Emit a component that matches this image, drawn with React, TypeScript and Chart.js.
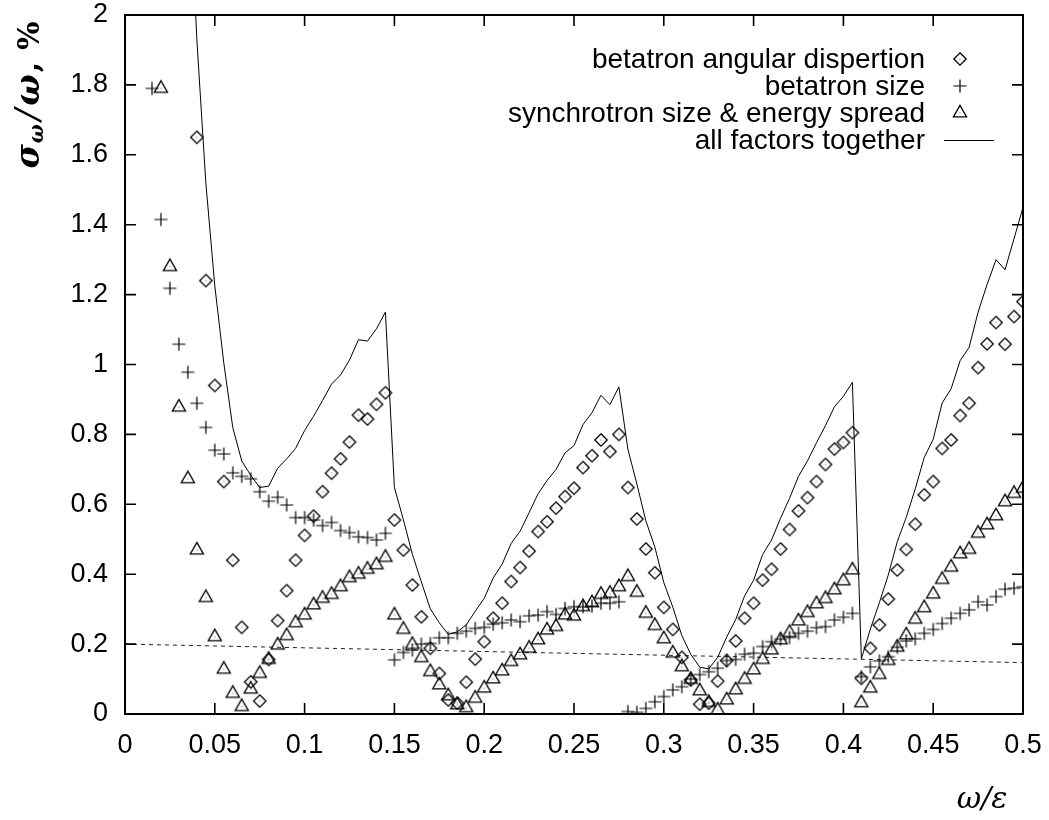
import React, { useEffect, useRef } from 'react';
import { Chart, registerables } from 'chart.js';

Chart.register(...registerables);

const xTickLabels = ['0', '0.05', '0.1', '0.15', '0.2', '0.25', '0.3', '0.35', '0.4', '0.45', '0.5'];
const yTickLabels = ['0', '0.2', '0.4', '0.6', '0.8', '1', '1.2', '1.4', '1.6', '1.8', '2'];

const seriesLabels = [
  'betatron angular dispertion',
  'betatron size',
  'synchrotron size & energy spread',
  'all factors together',
];

const angularX = [
  0.04, 0.045, 0.05, 0.055, 0.06, 0.065, 0.07, 0.075, 0.08, 0.085, 0.09, 0.095, 0.1, 0.105, 0.11, 0.115, 0.12, 0.125, 0.13, 0.135, 0.14, 0.145,
  0.15, 0.155, 0.16, 0.165, 0.17, 0.175, 0.18, 0.185, 0.19, 0.195, 0.2, 0.205, 0.21, 0.215, 0.22, 0.225, 0.23, 0.235, 0.24, 0.245, 0.25, 0.255, 0.26, 0.265, 0.27, 0.275,
  0.28, 0.285, 0.29, 0.295, 0.3, 0.305, 0.31, 0.315, 0.32, 0.325, 0.33, 0.335, 0.34, 0.345, 0.35, 0.355, 0.36, 0.365, 0.37, 0.375, 0.38, 0.385, 0.39, 0.395, 0.4, 0.405,
  0.41, 0.415, 0.42, 0.425, 0.43, 0.435, 0.44, 0.445, 0.45, 0.455, 0.46, 0.465, 0.47, 0.475, 0.48, 0.485, 0.49, 0.495, 0.5,
];
const angularY = [
  1.65, 1.24, 0.94, 0.665, 0.44, 0.248, 0.092, 0.037, 0.156, 0.267, 0.353, 0.44, 0.511, 0.566, 0.636, 0.689, 0.73, 0.778, 0.855, 0.844, 0.886, 0.919,
  0.555, 0.469, 0.369, 0.278, 0.188, 0.116, 0.04, 0.031, 0.091, 0.157, 0.207, 0.274, 0.317, 0.379, 0.419, 0.466, 0.522, 0.55, 0.589, 0.622, 0.646, 0.705, 0.739, 0.784, 0.751, 0.8,
  0.648, 0.558, 0.472, 0.404, 0.305, 0.242, 0.162, 0.097, 0.028, 0.031, 0.094, 0.153, 0.209, 0.274, 0.317, 0.383, 0.414, 0.472, 0.528, 0.581, 0.619, 0.665, 0.714, 0.758, 0.777, 0.805,
  0.102, 0.188, 0.255, 0.329, 0.412, 0.471, 0.543, 0.627, 0.665, 0.76, 0.784, 0.854, 0.889, 0.991, 1.059, 1.12, 1.058, 1.137, 1.18,
];

const sizeX = [
  0.015, 0.02, 0.025, 0.03, 0.035, 0.04, 0.045, 0.05, 0.055, 0.06, 0.065, 0.07, 0.075, 0.08, 0.085, 0.09, 0.095, 0.1, 0.105, 0.11, 0.115, 0.12, 0.125, 0.13, 0.135, 0.14, 0.145,
  0.15, 0.155, 0.16, 0.165, 0.17, 0.175, 0.18, 0.185, 0.19, 0.195, 0.2, 0.205, 0.21, 0.215, 0.22, 0.225, 0.23, 0.235, 0.24, 0.245, 0.25, 0.255, 0.26, 0.265, 0.27, 0.275,
  0.28, 0.285, 0.29, 0.295, 0.3, 0.305, 0.31, 0.315, 0.32, 0.325, 0.33, 0.335, 0.34, 0.345, 0.35, 0.355, 0.36, 0.365, 0.37, 0.375, 0.38, 0.385, 0.39, 0.395, 0.4, 0.405,
  0.41, 0.415, 0.42, 0.425, 0.43, 0.435, 0.44, 0.445, 0.45, 0.455, 0.46, 0.465, 0.47, 0.475, 0.48, 0.485, 0.49, 0.495, 0.5,
];
const sizeY = [
  1.79, 1.415, 1.218, 1.058, 0.978, 0.889, 0.82, 0.755, 0.744, 0.69, 0.68, 0.673, 0.636, 0.609, 0.62, 0.598, 0.562, 0.562, 0.555, 0.539, 0.548, 0.525, 0.519, 0.507, 0.505, 0.498, 0.517,
  0.155, 0.176, 0.183, 0.2, 0.202, 0.218, 0.218, 0.231, 0.237, 0.245, 0.248, 0.257, 0.261, 0.269, 0.264, 0.281, 0.283, 0.293, 0.285, 0.302, 0.307, 0.307, 0.309, 0.317, 0.317, 0.321,
  0.007, 0.005, 0.016, 0.035, 0.05, 0.069, 0.078, 0.1, 0.113, 0.121, 0.131, 0.153, 0.156, 0.171, 0.174, 0.193, 0.207, 0.214, 0.219, 0.231, 0.237, 0.247, 0.25, 0.269, 0.277, 0.288,
  0.107, 0.135, 0.152, 0.164, 0.191, 0.209, 0.215, 0.231, 0.242, 0.259, 0.274, 0.288, 0.298, 0.321, 0.312, 0.336, 0.357, 0.36, 0.364,
];

const synchX = [
  0.02, 0.025, 0.03, 0.035, 0.04, 0.045, 0.05, 0.055, 0.06, 0.065, 0.07, 0.075, 0.08, 0.085, 0.09, 0.095, 0.1, 0.105, 0.11, 0.115, 0.12, 0.125, 0.13, 0.135, 0.14, 0.145,
  0.15, 0.155, 0.16, 0.165, 0.17, 0.175, 0.18, 0.185, 0.19, 0.195, 0.2, 0.205, 0.21, 0.215, 0.22, 0.225, 0.23, 0.235, 0.24, 0.245, 0.25, 0.255, 0.26, 0.265, 0.27, 0.275, 0.28,
  0.285, 0.29, 0.295, 0.3, 0.305, 0.31, 0.315, 0.32, 0.325, 0.33, 0.335, 0.34, 0.345, 0.35, 0.355, 0.36, 0.365, 0.37, 0.375, 0.38, 0.385, 0.39, 0.395, 0.4, 0.405,
  0.41, 0.415, 0.42, 0.425, 0.43, 0.435, 0.44, 0.445, 0.45, 0.455, 0.46, 0.465, 0.47, 0.475, 0.48, 0.485, 0.49, 0.495, 0.5,
];
const synchY = [
  1.79, 1.28, 0.878, 0.673, 0.469, 0.333, 0.221, 0.128, 0.059, 0.021, 0.071, 0.116, 0.156, 0.197, 0.224, 0.261, 0.283, 0.312, 0.331, 0.342, 0.364, 0.39, 0.4, 0.414, 0.427, 0.448,
  0.283, 0.242, 0.199, 0.161, 0.121, 0.083, 0.052, 0.026, 0.018, 0.045, 0.074, 0.1, 0.123, 0.15, 0.169, 0.188, 0.212, 0.24, 0.25, 0.283, 0.28, 0.307, 0.318, 0.342, 0.345, 0.364, 0.393,
  0.348, 0.288, 0.253, 0.215, 0.174, 0.135, 0.099, 0.066, 0.033, 0.011, 0.04, 0.069, 0.099, 0.126, 0.156, 0.183, 0.212, 0.233, 0.266, 0.29, 0.315, 0.33, 0.355, 0.381, 0.412,
  0.032, 0.074, 0.113, 0.153, 0.191, 0.226, 0.271, 0.304, 0.343, 0.385, 0.42, 0.458, 0.471, 0.517, 0.541, 0.567, 0.607, 0.631, 0.646,
];

const totalX = [
  0.035, 0.04, 0.045, 0.05, 0.055, 0.06, 0.065, 0.07, 0.075, 0.08, 0.085, 0.09, 0.095, 0.1, 0.105, 0.11, 0.115, 0.12, 0.125, 0.13, 0.135, 0.14, 0.145,
  0.15, 0.155, 0.16, 0.165, 0.17, 0.175, 0.18, 0.185, 0.19, 0.195, 0.2, 0.205, 0.21, 0.215, 0.22, 0.225, 0.23, 0.235, 0.24, 0.245, 0.25, 0.255, 0.26, 0.265, 0.27, 0.275,
  0.28, 0.285, 0.29, 0.295, 0.3, 0.305, 0.31, 0.315, 0.32, 0.325, 0.33, 0.335, 0.34, 0.345, 0.35, 0.355, 0.36, 0.365, 0.37, 0.375, 0.38, 0.385, 0.39, 0.395, 0.4, 0.405,
  0.41, 0.415, 0.42, 0.425, 0.43, 0.435, 0.44, 0.445, 0.45, 0.455, 0.46, 0.465, 0.47, 0.475, 0.48, 0.485, 0.49, 0.495, 0.5,
];
const totalY = [
  2.5, 1.93, 1.52, 1.225, 1.005, 0.82, 0.724, 0.683, 0.648, 0.652, 0.703, 0.73, 0.76, 0.811, 0.852, 0.897, 0.944, 0.97, 1.013, 1.071, 1.067, 1.102, 1.15,
  0.648, 0.556, 0.457, 0.378, 0.301, 0.261, 0.228, 0.235, 0.255, 0.294, 0.331, 0.389, 0.429, 0.488, 0.523, 0.576, 0.63, 0.668, 0.7, 0.747, 0.768, 0.828, 0.862, 0.912, 0.885, 0.936,
  0.758, 0.658, 0.553, 0.478, 0.376, 0.306, 0.225, 0.171, 0.134, 0.129, 0.162, 0.22, 0.27, 0.338, 0.383, 0.456, 0.498, 0.56, 0.617, 0.68, 0.724, 0.776, 0.825, 0.879, 0.909, 0.949,
  0.158, 0.243, 0.318, 0.398, 0.493, 0.563, 0.644, 0.734, 0.786, 0.89, 0.931, 1.011, 1.049, 1.15, 1.229, 1.3, 1.271, 1.36, 1.45,
];

const thresholdX = [0, 0.5];
const thresholdY = [0.2, 0.147];

const FONT = '"Liberation Sans", Arial, Helvetica, sans-serif';
const MATH = '"DejaVu Serif", "Liberation Serif", serif';

function makeDiamond(): HTMLCanvasElement {
  const c = document.createElement('canvas');
  c.width = 16; c.height = 16;
  const g = c.getContext('2d')!;
  const m = 8, r = 6.2;
  g.strokeStyle = '#000'; g.lineWidth = 1.3;
  g.beginPath();
  g.moveTo(m, m - r); g.lineTo(m + r, m); g.lineTo(m, m + r); g.lineTo(m - r, m);
  g.closePath(); g.stroke();
  g.fillStyle = '#555'; g.fillRect(m - 0.5, m - 0.5, 1, 1);
  return c;
}

function makeTriangle(): HTMLCanvasElement {
  const c = document.createElement('canvas');
  c.width = 20; c.height = 20;
  const g = c.getContext('2d')!;
  const m = 10, r = 7.6;
  const hw = r * Math.sqrt(3) / 2;
  g.strokeStyle = '#000'; g.lineWidth = 1.3;
  g.beginPath();
  g.moveTo(m, m - r); g.lineTo(m + hw, m + r / 2); g.lineTo(m - hw, m + r / 2);
  g.closePath(); g.stroke();
  g.fillStyle = '#555'; g.fillRect(m - 0.5, m - 0.5, 1, 1);
  return c;
}

function makeCross(): HTMLCanvasElement {
  const c = document.createElement('canvas');
  c.width = 16; c.height = 16;
  const g = c.getContext('2d')!;
  const m = 8, r = 6.5;
  g.strokeStyle = '#000'; g.lineWidth = 1.2;
  g.beginPath();
  g.moveTo(m - r, m); g.lineTo(m + r, m);
  g.moveTo(m, m - r); g.lineTo(m, m + r);
  g.stroke();
  return c;
}

const pts = (xs: number[], ys: number[]) => xs.map((x, i) => ({ x, y: ys[i] }));
const findLabel = (labels: string[], v: number) => labels.find((l) => Math.abs(parseFloat(l) - v) < 1e-6) ?? '';

export default function App() {
  const ref = useRef<HTMLCanvasElement | null>(null);

  useEffect(() => {
    if (!ref.current) return;
    const diamond = makeDiamond();
    const triangle = makeTriangle();
    const cross = makeCross();

    const decor = {
      id: 'decor',
      afterDraw(chart: any) {
        const ctx = chart.ctx as CanvasRenderingContext2D;
        const a = chart.chartArea;
        const xs = chart.scales.x;
        const ys = chart.scales.y;
        ctx.save();
        // frame
        ctx.strokeStyle = '#000';
        ctx.lineWidth = 2;
        ctx.strokeRect(a.left, a.top, a.right - a.left, a.bottom - a.top);
        // inward ticks on all four sides
        ctx.lineWidth = 1.6;
        const tl = 11;
        ctx.beginPath();
        xs.ticks.forEach((t: any) => {
          const px = xs.getPixelForValue(t.value);
          ctx.moveTo(px, a.bottom); ctx.lineTo(px, a.bottom - tl);
          ctx.moveTo(px, a.top); ctx.lineTo(px, a.top + tl);
        });
        ys.ticks.forEach((t: any) => {
          const py = ys.getPixelForValue(t.value);
          ctx.moveTo(a.left, py); ctx.lineTo(a.left + tl, py);
          ctx.moveTo(a.right, py); ctx.lineTo(a.right - tl, py);
        });
        ctx.stroke();

        // legend
        const rows = [59, 86, 113, 140];
        const textRight = 925;
        const symX = 960;
        ctx.font = `28px ${FONT}`;
        ctx.fillStyle = '#000';
        ctx.textAlign = 'right';
        ctx.textBaseline = 'middle';
        const syms = [diamond, cross, triangle];
        seriesLabels.forEach((lab, i) => {
          const y = rows[i];
          ctx.fillText(lab, textRight, y + 1);
          if (i < 3) {
            const s = syms[i];
            ctx.drawImage(s, symX - s.width / 2, y - s.height / 2);
          } else {
            ctx.lineWidth = 1;
            ctx.beginPath();
            ctx.moveTo(944, y + 0.5); ctx.lineTo(994, y + 0.5);
            ctx.stroke();
          }
        });

        // y-axis title (rotated)
        ctx.save();
        ctx.translate(26, 95);
        ctx.rotate(-Math.PI / 2);
        const parts = [
          { t: '\u03c3', f: `bold italic 33px ${MATH}`, dy: 0, gap: 0 },
          { t: '\u03c9', f: `bold italic 20px ${MATH}`, dy: 4, gap: 1 },
          { t: '/', f: `italic 34px ${MATH}`, dy: 0, gap: 4 },
          { t: '\u03c9', f: `bold italic 33px ${MATH}`, dy: 0, gap: 3 },
          { t: ',', f: `bold 30px ${MATH}`, dy: 0, gap: 2 },
          { t: '%', f: `bold 30px ${MATH}`, dy: 0, gap: 12 },
        ];
        let total = 0;
        parts.forEach((p) => { ctx.font = p.f; total += p.gap + ctx.measureText(p.t).width; });
        let cx = -total / 2;
        ctx.textAlign = 'left';
        ctx.textBaseline = 'alphabetic';
        parts.forEach((p) => {
          ctx.font = p.f;
          cx += p.gap;
          ctx.fillText(p.t, cx, 13 + p.dy);
          cx += ctx.measureText(p.t).width;
        });
        ctx.restore();

        // x-axis title
        ctx.font = `italic 30px ${MATH}`;
        ctx.textAlign = 'center';
        ctx.textBaseline = 'middle';
        ctx.fillText('\u03c9/\u03b5', 982, 800);
        ctx.restore();
      },
    };

    const chart = new Chart(ref.current, {
      type: 'scatter',
      data: {
        datasets: [
          {
            label: seriesLabels[0],
            data: pts(angularX, angularY),
            pointStyle: diamond as any,
            pointRadius: 6,
            showLine: false,
            borderColor: '#000',
            backgroundColor: 'rgba(0,0,0,0)',
          },
          {
            label: seriesLabels[1],
            data: pts(sizeX, sizeY),
            pointStyle: cross as any,
            pointRadius: 6,
            showLine: false,
            borderColor: '#000',
            backgroundColor: 'rgba(0,0,0,0)',
          },
          {
            label: seriesLabels[2],
            data: pts(synchX, synchY),
            pointStyle: triangle as any,
            pointRadius: 7,
            showLine: false,
            borderColor: '#000',
            backgroundColor: 'rgba(0,0,0,0)',
          },
          {
            label: seriesLabels[3],
            data: pts(totalX, totalY),
            showLine: true,
            pointRadius: 0,
            borderColor: '#000',
            borderWidth: 1,
            tension: 0,
            fill: false,
          },
          {
            label: 'threshold',
            data: pts(thresholdX, thresholdY),
            showLine: true,
            pointRadius: 0,
            borderColor: '#222',
            borderWidth: 1,
            borderDash: [4, 4],
            tension: 0,
            fill: false,
          },
        ],
      },
      options: {
        animation: false,
        responsive: false,
        events: [],
        layout: { padding: { left: 0, right: 26, top: 15, bottom: 0 } },
        plugins: {
          legend: { display: false },
          tooltip: { enabled: false },
          title: { display: false },
        },
        scales: {
          x: {
            type: 'linear',
            position: 'bottom',
            min: 0,
            max: 0.5,
            grid: { display: false, drawTicks: false },
            border: { display: false },
            ticks: {
              stepSize: 0.05,
              autoSkip: false,
              maxRotation: 0,
              padding: 18,
              color: '#000',
              font: { family: FONT, size: 27, lineHeight: 1 },
              callback: (v: any) => findLabel(xTickLabels, Number(v)),
            },
            afterFit: (s: any) => {
              s.height = 106;
              s.paddingLeft = 0;
              s.paddingRight = 0;
            },
          },
          y: {
            type: 'linear',
            position: 'left',
            min: 0,
            max: 2,
            grid: { display: false, drawTicks: false },
            border: { display: false },
            ticks: {
              stepSize: 0.2,
              autoSkip: false,
              padding: 17,
              color: '#000',
              font: { family: FONT, size: 27, lineHeight: 1 },
              callback: (v: any) => findLabel(yTickLabels, Number(v)),
            },
            afterFit: (s: any) => {
              s.width = 125;
              s.paddingTop = 0;
              s.paddingBottom = 0;
            },
          },
        },
      } as any,
      plugins: [decor],
    });
    return () => chart.destroy();
  }, []);

  return (
    <div style={{ position: 'absolute', left: 0, top: 0, width: 1049, height: 820, background: '#fff' }}>
      <canvas ref={ref} width={1049} height={820} style={{ display: 'block' }} />
    </div>
  );
}
